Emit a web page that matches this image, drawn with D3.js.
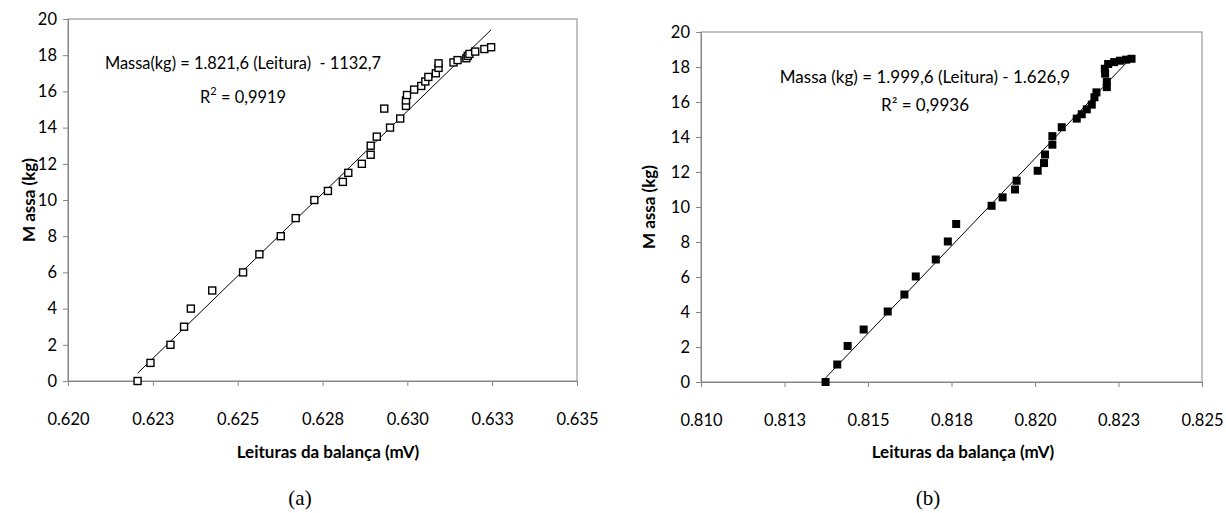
<!DOCTYPE html>
<html>
<head>
<meta charset="utf-8">
<script src="https://cdn.jsdelivr.net/npm/d3@7"></script>
<style>
	body { margin: 0; background: #fff; }
	svg { display: block; }
	.axis path, .axis line { stroke: #868686; }
	.axis text { font-family: Lato, sans-serif; font-size: 16.5px; fill: #000; }
	.eq { font-family: Lato, sans-serif; white-space: pre; }
	.title { font-family: Lato, sans-serif; font-size: 17px; font-weight: bold; }
	.caption { font-family: "Liberation Serif", "Times New Roman", serif; font-size: 21px; }
</style>
</head>
<body>
<script>
// Panel (a): leituras (mV) x massa (kg)
const leituraA = [0.62205, 0.62243, 0.62302, 0.62342, 0.62362, 0.62425, 0.62516, 0.62564, 0.62627, 0.62671,
	0.62726, 0.62766, 0.62810, 0.62826, 0.62866, 0.62892, 0.62892, 0.62910, 0.62949, 0.62979,
	0.62932, 0.62996, 0.62996, 0.62999, 0.63020, 0.63041, 0.63053, 0.63062, 0.63084, 0.63092,
	0.63092, 0.63136, 0.63148, 0.63174, 0.63178, 0.63183, 0.63200, 0.63227, 0.63247];
const massaA = [0, 1, 2, 3, 4, 5, 6, 7, 8, 9,
	10, 10.5, 11, 11.5, 12, 12.5, 13, 13.5, 14, 14.5,
	15.05, 15.2, 15.5, 15.8, 16.1, 16.3, 16.55, 16.8, 17.0, 17.3,
	17.55, 17.6, 17.73, 17.83, 17.96, 18.07, 18.2, 18.34, 18.44];

// Panel (b)
const leituraB = [0.81373, 0.81408, 0.81439, 0.81487, 0.81559, 0.81609, 0.81643, 0.81703, 0.81739, 0.81764,
	0.81870, 0.81903, 0.81940, 0.81945, 0.82008, 0.82027, 0.82030, 0.82052, 0.82052, 0.82080,
	0.82125, 0.82140, 0.82155, 0.82170, 0.82178, 0.82184, 0.82215, 0.82215, 0.82210, 0.82209,
	0.82219, 0.82237, 0.82254, 0.82273, 0.82289];
const massaB = [0, 1, 2.06, 3, 4.03, 5, 6.03, 7, 8.03, 9.03,
	10.07, 10.55, 11, 11.5, 12.07, 12.51, 13, 13.56, 14.05, 14.56,
	15.05, 15.3, 15.58, 15.85, 16.27, 16.55, 16.85, 17.15, 17.62, 17.9,
	18.17, 18.28, 18.36, 18.42, 18.47];

// Trend lines (from the equations shown)
const trendA = { slope: 1821.6, intercept: -1132.7 };
const trendB = { slope: 1999.6, intercept: -1626.9 };

// Axes
const ticksXA = [0.620, 0.6225, 0.625, 0.6275, 0.630, 0.6325, 0.635];
const labelsXA = ['0.620', '0.623', '0.625', '0.628', '0.630', '0.633', '0.635'];
const ticksXB = [0.810, 0.8125, 0.815, 0.8175, 0.820, 0.8225, 0.825];
const labelsXB = ['0.810', '0.813', '0.815', '0.818', '0.820', '0.823', '0.825'];
const ticksY = [0, 2, 4, 6, 8, 10, 12, 14, 16, 18, 20];

const svg = d3.select('body')
	.append('svg')
	.attr('width', 1226)
	.attr('height', 513);

function drawPanel(p) {
	const xScale = d3.scaleLinear().domain([p.ticksX[0], p.ticksX[p.ticksX.length - 1]]).range([p.left, p.right]);
	const yScale = d3.scaleLinear().domain([0, 20]).range([p.bottom, p.top]);

	// plot border
	svg.append('rect')
		.attr('x', p.left).attr('y', p.top)
		.attr('width', p.right - p.left).attr('height', p.bottom - p.top)
		.attr('fill', 'none').attr('stroke', '#868686');

	svg.append('g')
		.attr('class', 'axis')
		.attr('transform', `translate(0, ${p.bottom})`)
		.call(d3.axisBottom(xScale).tickValues(p.ticksX).tickFormat((d, i) => p.labelsX[i]).tickSize(5).tickSizeOuter(0).tickPadding(27));

	svg.append('g')
		.attr('class', 'axis')
		.attr('transform', `translate(${p.left}, 0)`)
		.call(d3.axisLeft(yScale).tickValues(ticksY).tickSize(5).tickSizeOuter(0).tickPadding(6));

	// trend line over the data range
	const ext = d3.extent(p.xs);
	const line = d3.line().x(d => xScale(d)).y(d => yScale(p.trend.slope * d + p.trend.intercept));
	svg.append('path')
		.datum(ext)
		.attr('d', line)
		.attr('fill', 'none')
		.attr('stroke', '#000')
		.attr('stroke-width', 1);

	// markers
	const pts = p.xs.map((x, i) => ({ x: x, y: p.ys[i] }));
	svg.append('g').selectAll('rect')
		.data(pts)
		.enter().append('rect')
		.attr('x', d => xScale(d.x) - p.size / 2)
		.attr('y', d => yScale(d.y) - p.size / 2)
		.attr('width', p.size)
		.attr('height', p.size)
		.attr('fill', p.filled ? '#000' : '#fff')
		.attr('stroke', '#000')
		.attr('stroke-width', p.filled ? 0 : 1.4);

	// equation
	svg.append('text').attr('class', 'eq')
		.attr('x', p.eqX).attr('y', p.eqY)
		.attr('text-anchor', 'middle')
		.style('font-size', p.eqSize + 'px')
		.text(p.eq);
	const r2 = svg.append('text').attr('class', 'eq')
		.attr('x', p.eqX).attr('y', p.r2Y)
		.attr('text-anchor', 'middle')
		.style('font-size', p.eqSize + 'px');
	r2.append('tspan').text('R');
	if (p.superscript) {
		r2.append('tspan').attr('dy', -8).style('font-size', '11px').text('2');
		r2.append('tspan').attr('dy', 8).text(' = ' + p.r2);
	} else {
		r2.append('tspan').text('\u00b2 = ' + p.r2);
	}

	// axis titles
	svg.append('text').attr('class', 'title')
		.attr('x', p.xTitleX).attr('y', 458)
		.attr('text-anchor', 'middle')
		.text('Leituras da balança (mV)');
	svg.append('text').attr('class', 'title')
		.attr('transform', `translate(${p.yTitleX}, ${(p.top + p.bottom) / 2}) rotate(-90)`)
		.attr('text-anchor', 'middle')
		.style('white-space', 'pre')
		.text('M assa (kg)');

	svg.append('text').attr('class', 'caption')
		.attr('x', p.captionX).attr('y', 505)
		.attr('text-anchor', 'middle')
		.text(p.caption);
}

drawPanel({
	xs: leituraA, ys: massaA, trend: trendA,
	ticksX: ticksXA, labelsX: labelsXA,
	left: 68, right: 577, top: 19, bottom: 381,
	size: 7, filled: false,
	eq: 'Massa(kg) = 1.821,6 (Leitura)  - 1132,7', r2: '0,9919', superscript: true,
	eqX: 243, eqY: 69, r2Y: 103, eqSize: 16.4,
	xTitleX: 328, yTitleX: 35, captionX: 300, caption: '(a)'
});

drawPanel({
	xs: leituraB, ys: massaB, trend: trendB,
	ticksX: ticksXB, labelsX: labelsXB,
	left: 701, right: 1202, top: 32, bottom: 382,
	size: 8, filled: true,
	eq: 'Massa (kg) = 1.999,6 (Leitura) - 1.626,9', r2: '0,9936', superscript: false,
	eqX: 925, eqY: 83, r2Y: 111, eqSize: 17,
	xTitleX: 963, yTitleX: 655, captionX: 928, caption: '(b)'
});
</script>
</body>
</html>
